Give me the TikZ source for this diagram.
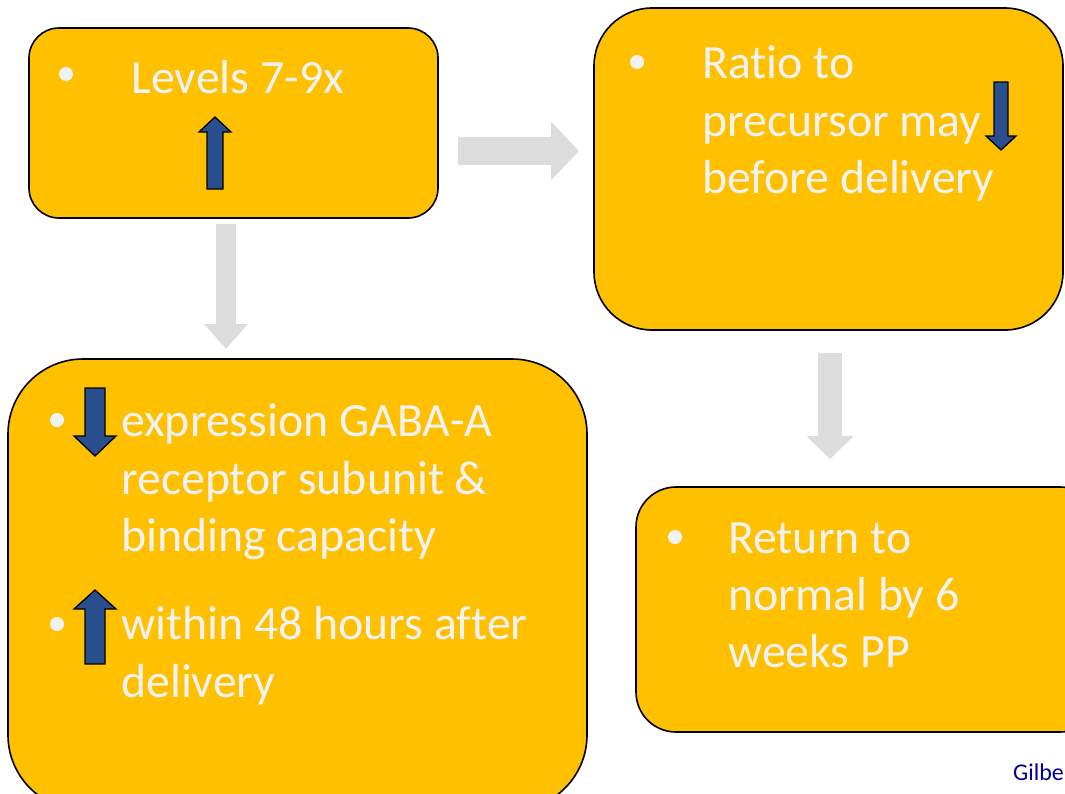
\documentclass[tikz,border=0pt]{standalone}
\usepackage{fontspec}
\setmainfont[Ligatures={NoCommon,NoContextual}, Contextuals=NoAlternate]{Carlito}
\usetikzlibrary{arrows.meta}
\definecolor{boxfill}{HTML}{FFC000}
\definecolor{txt}{HTML}{F2F2F2}
\definecolor{flow}{HTML}{DCDCDC}
\definecolor{updown}{HTML}{2A4F8F}
\definecolor{cite}{HTML}{000099}
\tikzset{
  card/.style={draw=black, line width=1.6pt, fill=boxfill},
  line/.style={anchor=base west, inner sep=0pt, text=txt, font=\fontsize{47.8}{57}\selectfont},
  bul/.style={circle, fill=txt, inner sep=0pt, minimum size=14pt},
  blk/.style={draw=black, line width=1.3pt, fill=updown, line join=miter},
}
\begin{document}
\begin{tikzpicture}[x=1pt,y=-1pt]
\useasboundingbox (0,0) rectangle (1065,793);
\clip (0,0) rectangle (1065,793);
\fill[white] (0,0) rectangle (1065,793);

% boxes
\draw[card, rounded corners=30pt] (29,28) rectangle (438,218);
\draw[card, rounded corners=58pt] (594,8) rectangle (1063,330);
\draw[card, rounded corners=75pt] (8,359) rectangle (587,810);
\draw[card, rounded corners=40pt] (636,487) rectangle (1100,732);

% gray flow arrows
\coordinate (a1s) at (458,151);
\coordinate (a1e) at (579,151);
\draw[flow, line width=28pt, -{Triangle[length=28pt,width=57pt]}] (a1s) -- (a1e);
\coordinate (a2s) at (226,224);
\coordinate (a2e) at (226,349);
\draw[flow, line width=20pt, -{Triangle[length=25pt,width=42pt]}] (a2s) -- (a2e);
\coordinate (a3s) at (830,353);
\coordinate (a3e) at (830,459);
\draw[flow, line width=24pt, -{Triangle[length=23pt,width=46pt]}] (a3s) -- (a3e);

% box 1
\node[bul] (p1) at (66,74) {};
\node[line] (t1) at (131,93) {Levels 7-9x};
\draw[blk] (207,189) -- (207,132) -- (199,132) -- (215,117) -- (231,132) -- (223,132) -- (223,189) -- cycle;

% box 2
\node[bul] (p2) at (637,62) {};
\node[line] (t2a) at (702,78) {Rat\kern0pt io to};
\node[line] (t2b) at (702,136) {precursor may};
\node[line] (t2c) at (702,193) {before delivery};
\draw[blk] (994,82) -- (1008,82) -- (1008,136) -- (1016,136) -- (1001,150) -- (986,136) -- (994,136) -- cycle;

% box 3
\node[bul] (p3) at (57,420) {};
\draw[blk] (85,388) -- (105,388) -- (105,436) -- (116,436) -- (95,456) -- (74,436) -- (85,436) -- cycle;
\node[line] (t3a) at (121,436) {expression GABA-A};
\node[line] (t3b) at (121,494) {receptor subunit \&};
\node[line] (t3c) at (121,551) {binding capacity};
\node[bul] (p4) at (57,624) {};
\draw[blk] (85,664) -- (85,609) -- (74,609) -- (95,590) -- (116,609) -- (105,609) -- (105,664) -- cycle;
\node[line] (t3d) at (121,639) {within 48 hours after};
\node[line] (t3e) at (121,697) {delivery};

% box 4
\node[bul] (p5) at (675,537) {};
\node[line] (t4a) at (728,553) {Return to};
\node[line] (t4b) at (728,610) {normal by 6};
\node[line] (t4c) at (728,667) {weeks PP};

% citation
\node[anchor=base west, inner sep=0pt, text=cite, font=\fontsize{24}{28}\selectfont] (cit) at (1013,780) {Gilbe};
\end{tikzpicture}
\end{document}
